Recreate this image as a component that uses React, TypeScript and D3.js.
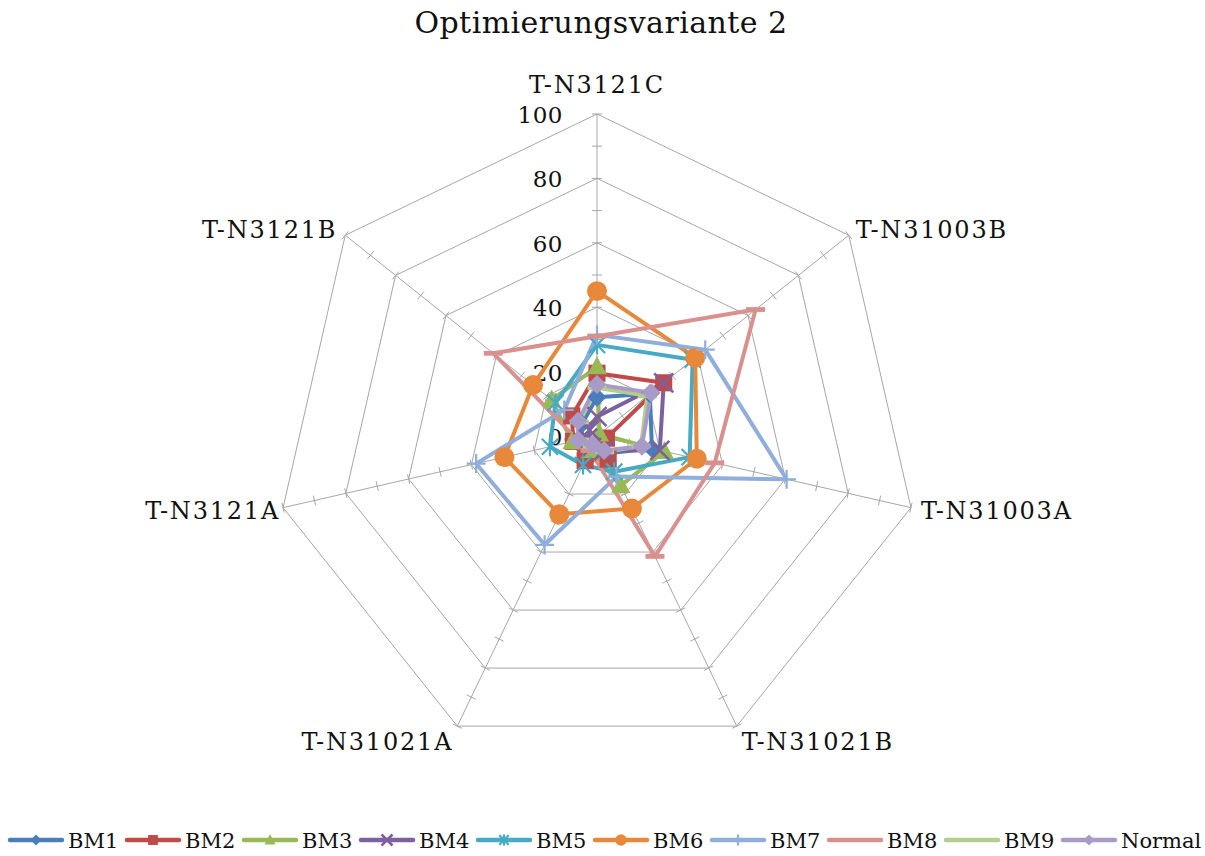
import React from "react";
import * as d3 from "d3";

// Axis categories (clockwise from the top)
const categories = [
  "T-N3121C",
  "T-N31003B",
  "T-N31003A",
  "T-N31021B",
  "T-N31021A",
  "T-N3121A",
  "T-N3121B",
];

const gridValues = [20, 40, 60, 80, 100];
const tickLabels = [0, 20, 40, 60, 80, 100];
const minorTicks = [10, 20, 30, 40, 50, 60, 70, 80, 90, 100];

// Series values, one per category
const bm1 = [12, 21, 17.5, 6, 4, 5, 6];
const bm2 = [19.5, 26.5, 3, 8, 8.5, 7.5, 10];
const bm3 = [21.5, 1, 21.5, 17, 5, 8, 18];
const bm4 = [6, 26.5, 20, 5, 4, 3, 3];
const bm5 = [28.3, 38, 29.5, 12.3, 10, 15, 16.5];
const bm6 = [45, 39, 31.8, 25, 27, 29.5, 25.4];
const bm7 = [31.4, 43, 60.4, 14, 37.5, 38.5, 13];
const bm8 = [31, 63, 37.5, 41.5, 5, 6, 41.2];
const bm9 = [15, 20, 14, 5.5, 3.5, 5.5, 7];
const normal = [16, 21.5, 14.3, 5, 3, 6, 7.5];

const seriesNames = ["BM1", "BM2", "BM3", "BM4", "BM5", "BM6", "BM7", "BM8", "BM9", "Normal"];
const seriesValues = [bm1, bm2, bm3, bm4, bm5, bm6, bm7, bm8, bm9, normal];
const seriesColors = [
  "#4A7EBB",
  "#BE4B48",
  "#98B954",
  "#7D60A0",
  "#46AAC5",
  "#E8883A",
  "#8FAEDB",
  "#D9918F",
  "#B3CE8C",
  "#A99BC8",
];
const seriesMarkers = [
  "diamond",
  "square",
  "triangle",
  "x",
  "star",
  "circle",
  "plus",
  "dash",
  "dash",
  "diamond",
];

const W = 1205;
const H = 856;
const cx = 597;
const cy = 436;
const R = 322;
const FONT = "'DejaVu Serif', 'Liberation Serif', serif";
const GRID = "#A6A6A6";

const rScale = d3.scaleLinear().domain([0, 100]).range([0, R]);
const angle = (i: number) => (i * 2 * Math.PI) / categories.length;
const pt = (i: number, v: number): [number, number] => [
  cx + rScale(v) * Math.sin(angle(i)),
  cy - rScale(v) * Math.cos(angle(i)),
];

function Marker({ type, x, y, color, s }: { type: string; x: number; y: number; color: string; s: number }) {
  switch (type) {
    case "diamond":
      return (
        <path
          d={`M${x},${y - s}L${x + s},${y}L${x},${y + s}L${x - s},${y}Z`}
          fill={color}
        />
      );
    case "square":
      return <rect x={x - s * 0.9} y={y - s * 0.9} width={s * 1.8} height={s * 1.8} fill={color} />;
    case "triangle":
      return (
        <path
          d={`M${x},${y - s * 1.1}L${x + s},${y + s * 0.8}L${x - s},${y + s * 0.8}Z`}
          fill={color}
        />
      );
    case "circle":
      return <circle cx={x} cy={y} r={s * 1.05} fill={color} />;
    case "x":
      return (
        <path
          d={`M${x - s},${y - s}L${x + s},${y + s}M${x - s},${y + s}L${x + s},${y - s}`}
          stroke={color}
          strokeWidth={2.6}
        />
      );
    case "star":
      return (
        <path
          d={`M${x - s * 0.85},${y - s * 0.85}L${x + s * 0.85},${y + s * 0.85}M${x - s * 0.85},${y + s * 0.85}L${x + s * 0.85},${y - s * 0.85}M${x},${y - s}L${x},${y + s}`}
          stroke={color}
          strokeWidth={2.2}
        />
      );
    case "plus":
      return (
        <path
          d={`M${x - s},${y}L${x + s},${y}M${x},${y - s}L${x},${y + s}`}
          stroke={color}
          strokeWidth={2.2}
        />
      );
    case "dash":
      return <rect x={x - s} y={y - 2.4} width={s * 2} height={4.8} fill={color} />;
    default:
      return null;
  }
}

// Category label placement around the outer ring
const labelAnchors = ["middle", "start", "start", "start", "end", "end", "end"];
const labelOffsets: [number, number][] = [
  [0, -21],
  [7, 3],
  [10, 11],
  [5, 24],
  [-4, 24],
  [-3, 11],
  [-8, 3],
];

export default function App() {
  const n = categories.length;
  const radial = d3
    .lineRadial<number>()
    .angle((_, i) => angle(i))
    .radius((v) => rScale(v))
    .curve(d3.curveLinearClosed);

  const ring = (v: number) =>
    d3.range(n).map((i) => pt(i, v)).map((p) => p.join(",")).join(" ");

  const legendX0 = 10;
  const legendPitch = 117;
  const legendY = 840;

  return (
    <svg
      width={W}
      height={H}
      style={{ position: "absolute", left: 0, top: 0, background: "#fff" }}
      fontFamily={FONT}
    >
      <rect width={W} height={H} fill="#fff" />
      <text x={601} y={33} textAnchor="middle" fontSize={30} letterSpacing={0.45} fill="#111">
        Optimierungsvariante 2
      </text>

      {/* grid rings */}
      {gridValues.map((v) => (
        <polygon key={v} points={ring(v)} fill="none" stroke={GRID} strokeWidth={1} />
      ))}
      {/* spokes with minor ticks */}
      {d3.range(n).map((i) => {
        const [x1, y1] = pt(i, 100);
        const a = angle(i);
        const px = Math.cos(a);
        const py = Math.sin(a);
        return (
          <g key={i}>
            <line x1={cx} y1={cy} x2={x1} y2={y1} stroke={GRID} strokeWidth={1} />
            {minorTicks.map((t) => {
              const [tx, ty] = pt(i, t);
              return (
                <line
                  key={t}
                  x1={tx - px * 5}
                  y1={ty - py * 5}
                  x2={tx + px * 5}
                  y2={ty + py * 5}
                  stroke={GRID}
                  strokeWidth={1}
                />
              );
            })}
          </g>
        );
      })}

      {/* value labels along the top axis */}
      {tickLabels.map((v) => (
        <text
          key={v}
          x={563}
          y={cy - rScale(v) + 9}
          textAnchor="end"
          fontSize={23}
          letterSpacing={0.5}
          fill="#111"
        >
          {v}
        </text>
      ))}

      {/* category labels */}
      {categories.map((c, i) => {
        const [x, y] = pt(i, 100);
        return (
          <text
            key={c}
            x={x + labelOffsets[i][0]}
            y={y + labelOffsets[i][1]}
            textAnchor={labelAnchors[i]}
            fontSize={24}
            letterSpacing={1.8}
            fill="#111"
          >
            {c}
          </text>
        );
      })}

      {/* series */}
      {seriesValues.map((vals, si) => (
        <g key={seriesNames[si]} transform={`translate(${cx},${cy})`}>
          <path
            d={radial(vals) || ""}
            fill="none"
            stroke={seriesColors[si]}
            strokeWidth={4}
            strokeLinejoin="round"
          />
        </g>
      ))}
      {seriesValues.map((vals, si) => (
        <g key={"m" + seriesNames[si]}>
          {vals.map((v, i) => {
            const [x, y] = pt(i, v);
            return (
              <Marker
                key={i}
                type={seriesMarkers[si]}
                x={x}
                y={y}
                color={seriesColors[si]}
                s={9.5}
              />
            );
          })}
        </g>
      ))}

      {/* legend */}
      {seriesNames.map((name, si) => {
        const x = legendX0 + si * legendPitch;
        return (
          <g key={"l" + name}>
            <line
              x1={x}
              y1={legendY}
              x2={x + 52}
              y2={legendY}
              stroke={seriesColors[si]}
              strokeWidth={4.5}
              strokeLinecap="round"
            />
            {seriesMarkers[si] !== "dash" && (
              <Marker type={seriesMarkers[si]} x={x + 26} y={legendY} color={seriesColors[si]} s={5.5} />
            )}
            <text x={x + 58} y={legendY + 7.5} fontSize={21} fill="#111">
              {name}
            </text>
          </g>
        );
      })}
    </svg>
  );
}
